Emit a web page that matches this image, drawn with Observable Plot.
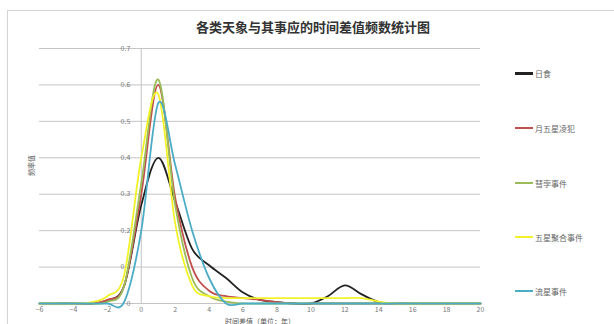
<!DOCTYPE html>
<html><head><meta charset="utf-8">
<script src="https://cdn.jsdelivr.net/npm/d3@7"></script>
<script src="https://cdn.jsdelivr.net/npm/@observablehq/plot@0.6"></script>
<style>
html,body{margin:0;padding:0;background:#fff;}
#wrap{position:relative;width:614px;height:324px;overflow:hidden;font-family:"Noto Sans CJK SC","Noto Sans",sans-serif;}
#border{position:absolute;left:7px;top:10px;width:640px;height:340px;border:1px solid #d4d4d4;box-sizing:border-box;}
#title{position:absolute;left:0;width:626px;top:19px;text-align:center;font-size:13px;font-weight:bold;color:#333;line-height:16px;}
.leg{position:absolute;left:515px;height:12px;font-size:8px;color:#666;display:flex;align-items:center;white-space:nowrap;}
.leg .sw{display:inline-block;width:18px;margin-right:2px;}
#chart{position:absolute;left:0;top:0;}
</style></head>
<body>
<div id="wrap"><div id="border"></div><div id="title"></div><div id="chart"></div><div id="legend"></div></div>
<script>
const chartTitle = "各类天象与其事应的时间差值频数统计图";
const yTitle = "频率值";
const xTitle = "时间差值（单位：年）";
const years = d3.range(-6, 21);
const seriesNames = ["日食", "月五星凌犯", "彗孛事件", "五星聚合事件", "流星事件"];
const seriesColors = ["#222222", "#c0504d", "#9bbb59", "#f2f22a", "#4bacc6"];
//               -6  -5  -4  -3     -2     -1    0     1      2     3     4      5      6      7      8      9     10    11    12    13     14    15 16 17 18 19 20
const riShi     = [0,  0,  0,  0,    0.008, 0.05, 0.27, 0.40,  0.28, 0.15, 0.105, 0.07,  0.03,  0.01,  0.004, 0,    0,    0.02, 0.05, 0.025, 0.004, 0, 0, 0, 0, 0, 0];
const lingFan   = [0,  0,  0,  0,    0.01,  0.05, 0.30, 0.60,  0.29, 0.10, 0.035, 0.02,  0.015, 0.01,  0.004, 0,    0,    0,    0,    0,     0,    0, 0, 0, 0, 0, 0];
const huiBei    = [0,  0,  0,  0,    0.005, 0.05, 0.33, 0.615, 0.27, 0.07, 0.02,  0.005, 0,     0,     0,     0,    0,    0,    0,    0,     0,    0, 0, 0, 0, 0, 0];
const juHe      = [0,  0,  0,  0.003,0.02,  0.08, 0.40, 0.575, 0.22, 0.05, 0.02,  0.015, 0.015, 0.015, 0.015, 0.015,0.015,0.015,0.015,0.015, 0.005,0, 0, 0, 0, 0, 0];
const liuXing   = [0,  0,  0,  0,    0,     0.005,0.2,  0.55,  0.38, 0.20, 0.07,  0,     0,     0,     0,     0,    0,    0,    0,    0,     0,    0, 0, 0, 0, 0, 0];
const seriesValues = [riShi, lingFan, huiBei, juHe, liuXing];
const yTicks = [0, 0.1, 0.2, 0.3, 0.4, 0.5, 0.6, 0.7];
const xTicks = d3.range(-6, 21, 2);

const table = [];
seriesNames.forEach((name, i) => seriesValues[i].forEach((v, j) => table.push({x: years[j], y: v, s: name})));

const plot = Plot.plot({
  width: 614, height: 324,
  marginLeft: 39, marginRight: 134, marginTop: 48, marginBottom: 21,
  style: {background: "transparent", fontFamily: "'Noto Sans CJK SC','Noto Sans',sans-serif"},
  x: {domain: [-6, 20]},
  y: {domain: [0, 0.7], axis: null},
  color: {domain: seriesNames, range: seriesColors},
  marks: [
    Plot.ruleY(yTicks, {stroke: "#c4c4c4", strokeWidth: 1}),
    Plot.ruleX([0], {stroke: "#c4c4c4", strokeWidth: 1}),
    Plot.text(yTicks, {x: 0, y: d => d, text: d => String(d), dx: -11, textAnchor: "end", fontSize: 7, fill: "#777"}),
    Plot.axisX({ticks: xTicks, tickSize: 0, tickPadding: 4, fontSize: 7, fill: "#777", label: null}),
    Plot.line(table, {x: "x", y: "y", z: "s", stroke: "s", curve: "cardinal", tension: 0, strokeWidth: 1.8}),
    Plot.text([yTitle], {frameAnchor: "left", dx: -8, rotate: -90, fontSize: 7, fill: "#555"}),
    Plot.text([xTitle], {frameAnchor: "bottom", dy: 20, fontSize: 7, fill: "#555"})
  ]
});
document.getElementById("chart").appendChild(plot);
document.getElementById("title").textContent = chartTitle;

const legendY = [73, 128, 183, 237, 291];
const leg = document.getElementById("legend");
seriesNames.forEach((name, i) => {
  const d = document.createElement("div");
  d.className = "leg";
  d.style.top = (legendY[i] - 6) + "px";
  const sw = document.createElement("span");
  sw.className = "sw";
  sw.style.height = i === 0 ? "3px" : "2px";
  sw.style.background = seriesColors[i];
  d.appendChild(sw);
  d.appendChild(document.createTextNode(name));
  leg.appendChild(d);
});
</script>
</body></html>
